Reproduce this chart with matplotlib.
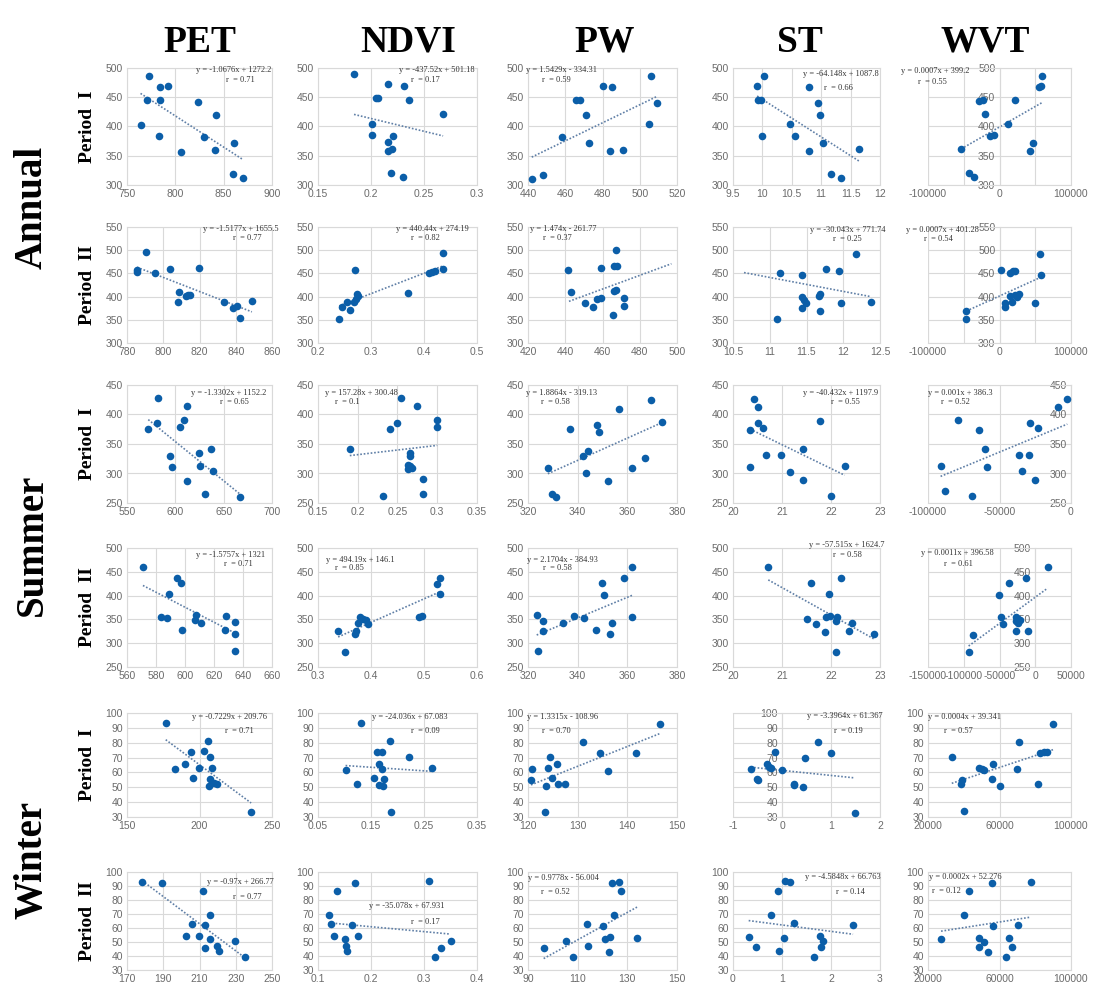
import matplotlib
matplotlib.use('Agg')
import matplotlib.pyplot as plt
import numpy as np
from matplotlib.ticker import MultipleLocator, FuncFormatter

variables = ['PET', 'NDVI', 'PW', 'ST', 'WVT']
seasons = ['Annual', 'Summer', 'Winter']
periods = ['Period  I', 'Period  II'] * 3

# ---- scatter data, one list per row (Annual I, Annual II, Summer I, Summer II, Winter I, Winter II)
PET_X = [
    [773, 784, 792, 771, 784, 823, 842, 764, 783, 830, 806, 841, 861, 860, 870],
    [785.5, 785.5, 790.7, 795.3, 803.9, 808.5, 807.9, 812.5, 813.6, 814.9, 819.9, 833.3, 838.3, 840.7, 842.1, 848.9],
    [572, 582, 581.5, 594, 597, 604.6, 609, 612, 611.6, 625, 626, 637, 638.5, 630.5, 667],
    [571, 583.5, 587.8, 589.3, 594.8, 597, 597.6, 607.4, 606.7, 611, 628, 627.8, 634.6, 634.6, 634.2],
    [176.7, 183.3, 190, 194.4, 195.6, 199.6, 203.3, 206.2, 207.1, 208.4, 206.9, 206.7, 210, 212.2, 235.6],
    [178.3, 189.3, 211.9, 216, 205.8, 212.8, 202.5, 209.5, 215.6, 212.8, 219.6, 220.5, 229.7, 235.3],
]
PET_Y = [
    [487, 467, 470, 446, 445, 442, 419, 403, 383, 382, 357, 359, 372, 318, 312],
    [457, 453, 496, 450, 459, 409, 389, 401, 403, 404, 461, 389, 375, 379, 353, 391],
    [375, 428, 386, 330, 311, 378, 390, 414, 288, 334, 313, 341, 305, 266, 260],
    [461, 356, 352, 404, 438, 426, 327, 359, 349, 343, 357, 327, 344, 320, 283],
    [93.1, 62, 65.7, 73.5, 56.1, 62.7, 74.1, 80.9, 70.4, 63, 55.5, 51, 53, 52.2, 33.5],
    [93, 92.5, 86.5, 69, 63, 62, 54, 54, 52.5, 46, 47, 43.5, 51, 39],
]
NDVI_X = [
    [0.184, 0.216, 0.231, 0.205, 0.207, 0.236, 0.268, 0.201, 0.201, 0.221, 0.216, 0.216, 0.220, 0.219, 0.230],
    [0.24, 0.245, 0.255, 0.26, 0.268, 0.272, 0.275, 0.273, 0.27, 0.37, 0.41, 0.415, 0.42, 0.435, 0.435],
    [0.19, 0.24, 0.25, 0.254, 0.275, 0.30, 0.30, 0.266, 0.266, 0.263, 0.266, 0.268, 0.263, 0.282, 0.282, 0.232],
    [0.338, 0.35, 0.37, 0.372, 0.375, 0.38, 0.385, 0.39, 0.395, 0.49, 0.497, 0.525, 0.53, 0.53],
    [0.102, 0.123, 0.131, 0.155, 0.161, 0.170, 0.165, 0.166, 0.172, 0.171, 0.174, 0.185, 0.187, 0.221, 0.265],
    [0.12, 0.125, 0.135, 0.13, 0.15, 0.152, 0.155, 0.17, 0.165, 0.175, 0.31, 0.32, 0.333, 0.35],
]
NDVI_Y = [
    [489, 473, 470, 448, 448, 446, 421, 405, 385, 384, 374, 358, 361, 320, 313],
    [352, 378, 388, 372, 388, 395, 402, 405, 458, 408, 450, 452, 455, 495, 460],
    [341, 376, 386, 428, 415, 390, 378, 334, 330, 314, 313, 310, 307, 290, 266, 262],
    [325, 282, 320, 325, 342, 355, 350, 348, 340, 355, 358, 425, 438, 403],
    [61.5, 52.5, 93, 56, 74, 74, 66, 51.8, 51, 62.5, 55.5, 81, 33.5, 70.5, 63],
    [69, 63, 86.5, 54, 52.5, 47, 43.5, 92, 62, 54, 93.5, 39, 46, 51],
]
PW_X = [
    [442, 448, 458, 466, 468, 471, 473, 480, 485, 484, 491, 506, 505, 509],
    [441.7, 442.9, 450.6, 455, 457, 459, 459.4, 466, 467, 466, 468, 467, 465.7, 471.6, 471.6],
    [328, 329.5, 331.4, 337, 342, 344.3, 343.5, 347.6, 348.7, 356.5, 352.3, 362, 367, 369.4, 374],
    [323.5, 326, 326, 324, 334, 338.6, 342.6, 347.3, 349.6, 350.6, 354, 353, 358.8, 361.9, 361.9],
    [120.6, 120.8, 123.7, 123.5, 124.1, 124.4, 124.8, 126, 125.8, 127.4, 131, 134.5, 136.2, 141.8, 146.5],
    [96.3, 105.4, 108, 113.8, 114, 120, 121, 123.2, 122.8, 124.6, 123.9, 126.7, 127.4, 133.9],
]
PW_Y = [
    [311, 317, 382, 446, 445, 420, 372, 470, 467, 358, 360, 486, 404, 441],
    [457, 410, 386, 378, 395, 396, 461, 411, 415, 466, 467, 500, 360, 398, 380],
    [310, 266, 260, 375, 330, 338, 300, 383, 370, 410, 288, 309, 327, 424, 387],
    [359, 347, 326, 283, 343, 357, 352, 327, 426, 401, 342, 319, 438, 461, 355],
    [55, 62.3, 51, 33.5, 62.9, 70.5, 56, 52.5, 65.9, 51.9, 80.8, 73.4, 61.1, 73, 92.5],
    [46, 51, 39, 63, 47, 61.5, 52.5, 53.5, 43, 69, 92.5, 93, 86.5, 53],
]
ST_X = [
    [9.91, 10.03, 9.93, 9.98, 9.99, 10.47, 10.55, 10.80, 10.94, 10.98, 11.03, 10.80, 11.16, 11.33, 11.65],
    [11.10, 11.14, 11.44, 11.44, 11.49, 11.47, 11.44, 11.67, 11.68, 11.68, 11.76, 11.94, 11.97, 12.17, 12.38],
    [20.43, 20.51, 20.51, 20.35, 20.62, 20.35, 20.67, 20.97, 21.17, 21.42, 21.42, 21.77, 22.0, 22.28],
    [20.72, 21.6, 21.95, 22.2, 21.5, 21.7, 21.88, 21.9, 21.98, 22.1, 22.13, 22.1, 22.42, 22.37, 22.87],
    [-0.64, -0.51, -0.49, -0.30, -0.26, -0.23, -0.14, 0.0, 0.24, 0.25, 0.43, 0.46, 0.74, 1.0, 1.49],
    [0.32, 0.47, 0.78, 0.92, 0.94, 1.07, 1.16, 1.05, 1.24, 1.78, 1.84, 1.8, 1.66, 2.45],
]
ST_Y = [
    [470, 486, 446, 446, 384, 404, 383, 467, 441, 420, 372, 358, 319, 312, 361],
    [351, 451, 446.5, 399, 387, 392, 376, 402, 406, 370, 458.5, 455, 387, 492, 388],
    [426, 413, 385, 373, 377, 311, 331, 332, 303, 341, 289, 389, 262, 312],
    [461, 425.5, 403, 437.6, 351, 340, 324, 356, 358, 346, 356, 282, 342, 325, 319],
    [62.3, 55.4, 55.2, 65.6, 63.7, 62.7, 73.8, 61.7, 52.3, 51.5, 50.5, 69.9, 80.6, 73.4, 33],
    [53.6, 46.1, 69.3, 86.5, 43.7, 93.9, 92.9, 53, 63.4, 54, 51, 46.7, 39.2, 62],
]
WVT_X = [
    [-53700, -42000, -36000, -29000, -22400, -19600, -12600, -7000, 11700, 21000, 42000, 46700, 55000, 58400, 59300],
    [-46300, -46300, 1500, 14600, 18500, 22000, 7300, 8300, 14600, 22000, 17000, 26800, 24400, 49300, 56100, 58500],
    [-91200, -87900, -79100, -69200, -64400, -60000, -58900, -36300, -34500, -29700, -29000, -25300, -23100, -8800, -2600],
    [-93200, -86800, -51000, -47400, -45800, -36800, -27400, -26300, -23700, -21100, -23700, -26300, -10500, -13200, 17400],
    [33300, 38700, 39200, 40400, 48400, 50200, 51500, 55600, 56100, 60400, 69800, 71000, 81300, 82800, 84900, 86300, 90200],
    [27300, 40200, 42700, 48300, 48500, 51400, 53300, 55600, 56600, 63900, 65300, 67200, 70100, 77400],
]
WVT_Y = [
    [361, 320, 313, 443, 445, 421, 383, 385, 404, 446, 358, 372, 468, 470, 486],
    [370, 351, 458, 451, 455, 456, 387, 377, 402, 403, 389, 405, 399, 387, 492, 446],
    [313, 270, 390, 262, 373, 341, 311, 331, 304, 332, 385, 289, 377, 413, 427],
    [282, 318, 402, 356, 340, 425.5, 346, 356, 351, 348, 342, 325, 325, 437.6, 461],
    [70.1, 52.3, 54.9, 33.9, 63.3, 62.3, 61.7, 55.8, 65.6, 51, 62.3, 80.6, 51.9, 73.4, 73.8, 74, 92.9],
    [52.4, 69.3, 86.2, 53, 46.1, 50, 43.1, 92.1, 61.1, 39.2, 53, 46.1, 62, 93],
]

# ---- trend lines (slope, intercept) and r as printed
SLOPE = {
    'PET': [-1.0676, -1.5177, -1.3302, -1.5757, -0.7229, -0.97],
    'NDVI': [-437.52, 440.44, 157.28, 494.19, -24.036, -35.078],
    'PW': [1.5429, 1.474, 1.8864, 2.1704, 1.3315, 0.9778],
    'ST': [-64.148, -30.043, -40.432, -57.515, -3.3964, -4.5848],
    'WVT': [0.0007, 0.0007, 0.001, 0.0011, 0.0004, 0.0002],
}
INTERCEPT = {
    'PET': [1272.2, 1655.5, 1152.2, 1321, 209.76, 266.77],
    'NDVI': [501.18, 274.19, 300.48, 146.1, 67.083, 67.931],
    'PW': [-334.31, -261.77, -319.13, -384.93, -108.96, -56.004],
    'ST': [1087.8, 771.74, 1197.9, 1624.7, 61.367, 66.763],
    'WVT': [399.2, 401.28, 386.3, 396.58, 39.341, 52.276],
}
R_VAL = {
    'PET': ['0.71', '0.77', '0.65', '0.71', '0.71', '0.77'],
    'NDVI': ['0.17', '0.82', '0.1', '0.85', '0.09', '0.17'],
    'PW': ['0.59', '0.37', '0.58', '0.58', '0.70', '0.52'],
    'ST': ['0.66', '0.25', '0.55', '0.58', '0.19', '0.14'],
    'WVT': ['0.55', '0.54', '0.52', '0.61', '0.57', '0.12'],
}
# trend lines that run past the points
TREND_SPAN = {('PW', 1): (442, 497), ('ST', 1): (10.65, 12.38)}

# ---- axis ranges (min, max, step)
YRANGE = [(300, 500, 50), (300, 550, 50), (250, 450, 50), (250, 500, 50), (30, 100, 10), (30, 100, 10)]
XRANGE = {
    'PET': [(750, 900, 50), (780, 860, 20), (550, 700, 50), (560, 660, 20), (150, 250, 50), (170, 250, 20)],
    'NDVI': [(0.15, 0.3, 0.05), (0.2, 0.5, 0.1), (0.15, 0.35, 0.05), (0.3, 0.6, 0.1), (0.05, 0.35, 0.1), (0.1, 0.4, 0.1)],
    'PW': [(440, 520, 20), (420, 500, 20), (320, 380, 20), (320, 380, 20), (120, 150, 10), (90, 150, 20)],
    'ST': [(9.5, 12, 0.5), (10.5, 12.5, 0.5), (20, 23, 1), (20, 23, 1), (-1, 2, 1), (0, 3, 1)],
    'WVT': [(-100000, 100000, 50000), (-100000, 100000, 50000), (-100000, 0, 50000),
            (-150000, 50000, 50000), (20000, 100000, 40000), (20000, 100000, 40000)],
}

data_x = {'PET': PET_X, 'NDVI': NDVI_X, 'PW': PW_X, 'ST': ST_X, 'WVT': WVT_X}
data_y = {'PET': PET_Y, 'NDVI': NDVI_Y, 'PW': PW_Y, 'ST': ST_Y, 'WVT': WVT_Y}

# ---- layout in pixels of the 1104x996 picture
W, H = 1104, 996
col_lr = [(127, 272), (318, 477), (528, 677), (733, 880), (928, 1071)]
row_tb = [(68, 185), (227, 343), (385, 503), (548, 667), (713, 817), (872, 970)]
eq_pos = [
    [(234, 70, 240, 80), (437, 70, 425, 80), (562, 70, 556, 80), (841, 74, 838, 88), (935, 71, 932, 82)],
    [(241, 229, 247, 238), (432, 229, 425, 238), (563, 229, 557, 238), (848, 230, 847, 239), (942, 230, 938, 239)],
    [(229, 393, 234, 402), (361, 393, 347, 402), (562, 393, 555, 402), (841, 393, 845, 402), (960, 393, 955, 402)],
    [(231, 555, 238, 564), (360, 560, 349, 568), (562, 560, 557, 568), (847, 545, 847, 555), (957, 553, 958, 564)],
    [(230, 717, 239, 731), (410, 717, 425, 731), (563, 717, 556, 731), (845, 716, 848, 731), (965, 717, 958, 731)],
    [(240, 882, 247, 897), (407, 906, 425, 922), (563, 878, 555, 892), (843, 877, 850, 892), (965, 877, 946, 891)],
]
head_x = [200, 408, 605, 800, 985]
season_y = [207, 545, 860]

BLUE = '#0b5ea8'
GRID = '#d9d9d9'
TREND = '#5f7fa6'
SERIF = 'Liberation Serif'


def fmt(v, pos):
    v = round(v, 6)
    if v == 0:
        return '0'
    return f'{v:g}'


def fmt_skip_half(v, pos):
    if abs(abs(v) - 50000) < 1:
        return ''
    return fmt(v, pos)


def eq_text(a, b):
    sign = '+' if b >= 0 else '-'
    return f'y = {a:g}x {sign} {abs(b):g}'


fig = plt.figure(figsize=(W / 100, H / 100), dpi=100)

for i in range(6):
    t, b = row_tb[i]
    y0, y1, ystep = YRANGE[i]
    for j, var in enumerate(variables):
        l, r = col_lr[j]
        ax = fig.add_axes([l / W, 1 - b / H, (r - l) / W, (b - t) / H])
        x0, x1, xstep = XRANGE[var][i]
        ax.set_xlim(x0, x1)
        ax.set_ylim(y0, y1)
        ax.set_xticks(np.arange(x0, x1 + xstep / 2, xstep))
        ax.yaxis.set_major_locator(MultipleLocator(ystep))
        if var == 'WVT' and i < 2:
            ax.xaxis.set_major_formatter(FuncFormatter(fmt_skip_half))
        else:
            ax.xaxis.set_major_formatter(FuncFormatter(fmt))
        ax.yaxis.set_major_formatter(FuncFormatter(fmt))
        ax.grid(True, color=GRID, lw=0.8)
        ax.set_axisbelow(True)
        for sp in ax.spines.values():
            sp.set_color(GRID)
            sp.set_linewidth(0.8)
        # value axis crosses at x = 0 where 0 is inside the range
        if x0 <= 0 <= x1 and x0 < 0:
            ax.spines['left'].set_position(('data', 0))
            ax.axvline(x0, color=GRID, lw=0.8, zorder=0)
        ax.tick_params(length=0, labelsize=7.5, colors='#6b6b6b', pad=3)
        for lab in ax.get_xticklabels() + ax.get_yticklabels():
            lab.set_family('Liberation Sans')

        xs = data_x[var][i]
        ys = data_y[var][i]
        ax.scatter(xs, ys, s=30, color=BLUE, linewidths=0, zorder=3, clip_on=False)

        a = SLOPE[var][i]
        c = INTERCEPT[var][i]
        lo, hi = TREND_SPAN.get((var, i), (min(xs), max(xs)))
        tx = np.array([lo, hi])
        ax.plot(tx, a * tx + c, color=TREND, lw=1.2, ls=(0, (1, 1.1)), zorder=2)

        ex, ey, rx, ry = eq_pos[i][j]
        fig.text(ex / W, 1 - ey / H, eq_text(a, c), ha='center', va='center',
                 fontsize=6, family=SERIF, color='#333333')
        fig.text(rx / W, 1 - ry / H, 'r  = ' + R_VAL[var][i], ha='center', va='center',
                 fontsize=6, family=SERIF, color='#333333')

    fig.text(88 / W, 1 - (t + b) / 2 / H, periods[i], rotation=90, ha='center', va='center',
             fontsize=14, fontweight='bold', family=SERIF)

for j, var in enumerate(variables):
    fig.text(head_x[j] / W, 1 - 42 / H, var, ha='center', va='center',
             fontsize=27, fontweight='bold', family=SERIF)

for k, s in enumerate(seasons):
    fig.text(32 / W, 1 - season_y[k] / H, s, rotation=90, ha='center', va='center',
             fontsize=28, fontweight='bold', family=SERIF)

fig.savefig('out.png', dpi=100, facecolor='white')
